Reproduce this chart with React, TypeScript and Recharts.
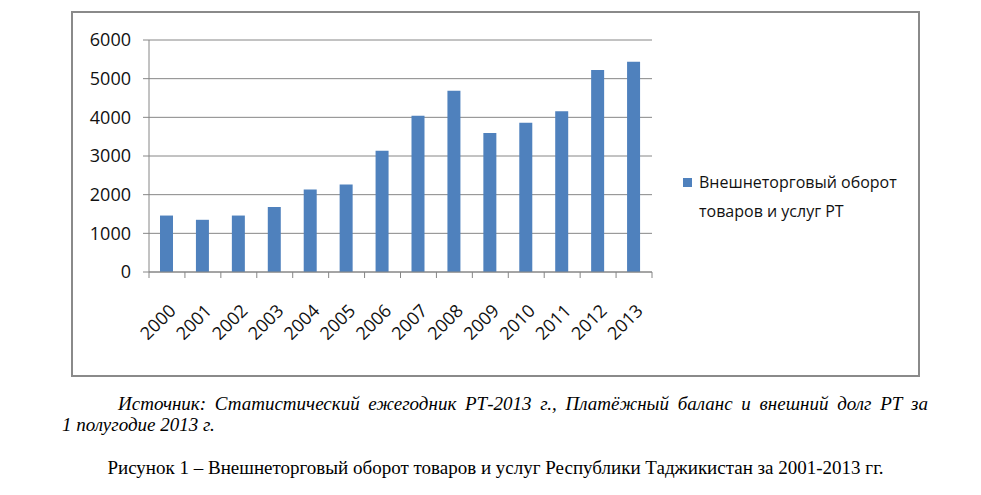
import { Bar, BarChart, CartesianGrid, XAxis, YAxis } from "recharts";

const YEARS = [
  "2000", "2001", "2002", "2003", "2004", "2005", "2006",
  "2007", "2008", "2009", "2010", "2011", "2012", "2013",
];
const TURNOVER = [1460, 1350, 1460, 1680, 2135, 2260, 3135, 4040, 4685, 3595, 3860, 4160, 5225, 5440];
const Y_TICKS = [0, 1000, 2000, 3000, 4000, 5000, 6000];
const SERIES_NAME = "Внешнеторговый оборот товаров и услуг РТ";
const LEGEND_LINES = ["Внешнеторговый оборот", "товаров и услуг РТ"];
const SOURCE_LINES = [
  "Источник: Статистический ежегодник РТ-2013 г., Платёжный баланс и внешний долг РТ за",
  "1 полугодие 2013 г.",
];
const CAPTION = "Рисунок 1 – Внешнеторговый оборот товаров и услуг Республики Таджикистан за 2001-2013 гг.";

const BAR_COLOR = "#4f81bd";
const GRID_COLOR = "#868686";
const CHART_FONT = "'Open Sans', 'Noto Sans', sans-serif";
const SERIF = "'Liberation Serif', 'Times New Roman', serif";

const chartData = YEARS.map((year, i) => ({ year, value: TURNOVER[i] }));

// rotated year label + tick marks on the category boundaries (Excel style)
function YearTick(props: any) {
  const { x, y, payload, index } = props;
  const half = payload.offset ?? 0;
  const px = x + 10;
  const py = y + 40;
  const isLast = index === YEARS.length - 1;
  return (
    <g>
      <line x1={x - half} y1={y} x2={x - half} y2={y + 6} stroke={GRID_COLOR} />
      {isLast && <line x1={x + half} y1={y} x2={x + half} y2={y + 6} stroke={GRID_COLOR} />}
      <text
        x={px}
        y={py}
        transform={`rotate(-45, ${px}, ${py})`}
        textAnchor="end"
        fontSize={18}
        fontFamily={CHART_FONT}
        fill="#111"
      >
        {payload.value}
      </text>
    </g>
  );
}

function LegendBox() {
  return (
    <div
      style={{
        position: "absolute",
        left: 610,
        top: 155,
        display: "flex",
        alignItems: "flex-start",
        fontFamily: CHART_FONT,
        fontSize: 16,
        color: "#111",
      }}
      title={SERIES_NAME}
    >
      <span style={{ width: 9, height: 9, background: BAR_COLOR, marginTop: 10, marginRight: 7, flex: "none" }} />
      <div style={{ lineHeight: "29px", whiteSpace: "nowrap" }}>
        {LEGEND_LINES.map((l) => (
          <div key={l}>{l}</div>
        ))}
      </div>
    </div>
  );
}

export default function App() {
  return (
    <div style={{ position: "absolute", left: 0, top: 0, width: 981, height: 495, background: "#fff" }}>
      <div
        style={{
          position: "absolute",
          left: 71,
          top: 11,
          width: 849,
          height: 366,
          border: "2px solid #8a8a8a",
          boxSizing: "border-box",
        }}
      >
        <BarChart width={845} height={362} data={chartData} margin={{ top: 27, right: 266, left: 0, bottom: 0 }}>
          <CartesianGrid vertical={false} stroke={GRID_COLOR} />
          <XAxis
            dataKey="year"
            height={103}
            stroke={GRID_COLOR}
            tickLine={false}
            tickSize={0}
            tickMargin={0}
            interval={0}
            tick={<YearTick />}
          />
          <YAxis
            width={76}
            domain={[0, 6000]}
            ticks={Y_TICKS}
            tickSize={6}
            tickMargin={12}
            stroke={GRID_COLOR}
            tick={{ fill: "#111", fontSize: 18, fontFamily: CHART_FONT }}
          />
          <Bar dataKey="value" name={SERIES_NAME} fill={BAR_COLOR} barSize={13} isAnimationActive={false} />
        </BarChart>
        <LegendBox />
      </div>
      <div
        style={{
          position: "absolute",
          left: 62,
          top: 393,
          width: 866,
          fontFamily: SERIF,
          fontStyle: "italic",
          fontSize: 19,
          lineHeight: "21px",
          color: "#000",
        }}
      >
        <div style={{ textAlign: "justify", textAlignLast: "justify", paddingLeft: 56, whiteSpace: "nowrap" as any }}>
          {SOURCE_LINES[0]}
        </div>
        <div>{SOURCE_LINES[1]}</div>
      </div>
      <div
        style={{
          position: "absolute",
          left: 0,
          top: 457,
          width: 991,
          textAlign: "center",
          fontFamily: SERIF,
          fontSize: 19,
          lineHeight: "21px",
          color: "#000",
          whiteSpace: "nowrap",
        }}
      >
        {CAPTION}
      </div>
    </div>
  );
}
